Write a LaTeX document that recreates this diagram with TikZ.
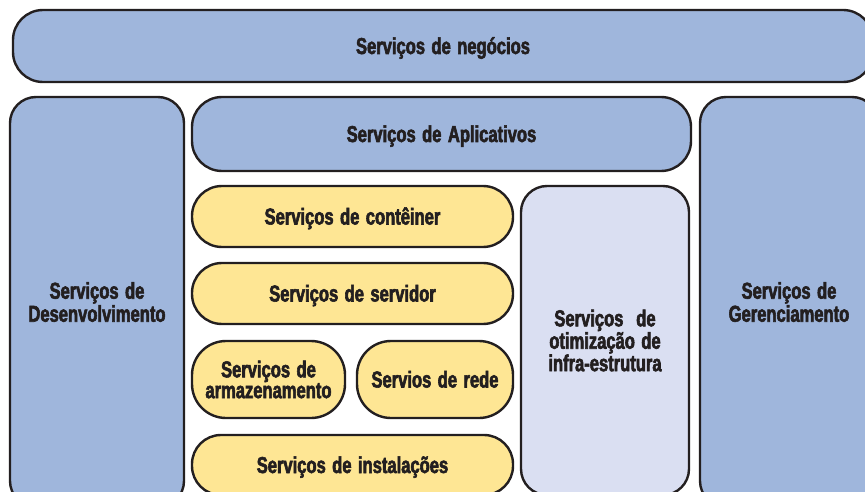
\documentclass[tikz,border=0pt]{standalone}
\usepackage{fontspec}
\newfontfamily\condfont[FakeStretch=0.72, WordSpace=1.4, UprightFont={* Bold}, FakeBold=2.5]{Liberation Sans}
\definecolor{boxblue}{RGB}{159,182,220}
\definecolor{boxyellow}{RGB}{254,230,148}
\definecolor{boxlilac}{RGB}{218,223,242}
\definecolor{boxline}{RGB}{35,31,32}

\begin{document}
\begin{tikzpicture}[x=1pt, y=-1pt,
    box/.style={draw=boxline, line width=2.4pt, inner sep=0pt, align=center, text=boxline,
      font=\condfont\fontsize{23}{20.8}\selectfont},
    oneline/.style={box, text height=16pt, text depth=0pt},
    tallbox/.style={box, font=\condfont\fontsize{23}{23}\selectfont},
    blue/.style={fill=boxblue},
    yellow/.style={fill=boxyellow},
    lilac/.style={fill=boxlilac}]
  \useasboundingbox (0,0) rectangle (865,492);
  \clip (0,0) rectangle (865,492);

  % top layer
  \node[oneline, blue, minimum width=860pt, minimum height=72pt, rounded corners=30pt] (neg) at (443,46) {Serviços de negócios};

  % side columns
  \node[tallbox, blue, minimum width=174pt, minimum height=410pt, rounded corners=26pt] (dev) at (97,302) {Serviços de\\Desenvolvimento};
  \node[tallbox, blue, minimum width=178pt, minimum height=410pt, rounded corners=26pt] (ger) at (789,302) {Serviços de\\Gerenciamento};

  % middle
  \node[oneline, blue, minimum width=499pt, minimum height=74pt, rounded corners=30pt] (apl) at (441.5,134) {Serviços de Aplicativos};
  \node[box, lilac, minimum width=168pt, minimum height=309pt, rounded corners=26pt] (otim) at (605,340.5) {Serviços\ \ de\\otimização de\\infra-estrutura};

  % infrastructure stack
  \node[oneline, yellow, minimum width=321pt, minimum height=61pt, rounded corners=30pt] (cont) at (352.5,216.5) {Serviços de contêiner};
  \node[oneline, yellow, minimum width=321pt, minimum height=61pt, rounded corners=30pt] (serv) at (352.5,293.5) {Serviços de servidor};
  \node[box, yellow, minimum width=153pt, minimum height=77pt, rounded corners=34pt] (arm) at (268.5,379.5) {Serviços de\\armazenamento};
  \node[oneline, yellow, minimum width=156pt, minimum height=77pt, rounded corners=34pt] (rede) at (435,379.5) {Servios de rede};
  \node[oneline, yellow, minimum width=321pt, minimum height=60pt, rounded corners=29pt] (inst) at (352.5,465) {Serviços de instalações};
\end{tikzpicture}
\end{document}
